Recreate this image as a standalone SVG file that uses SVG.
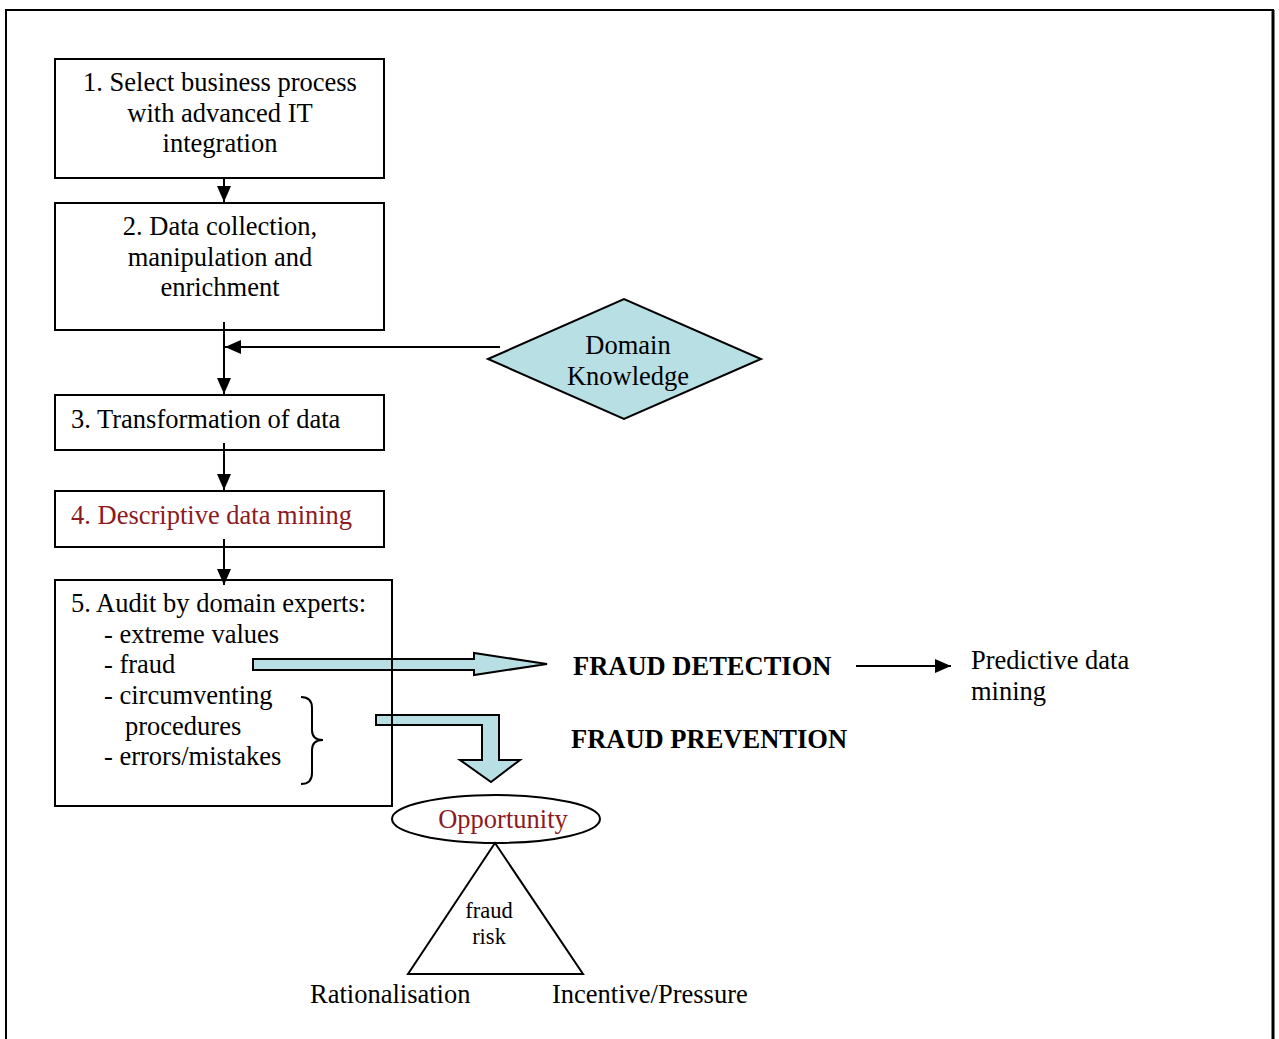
<svg xmlns="http://www.w3.org/2000/svg" width="1279" height="1039" viewBox="0 0 1279 1039">
<style>
text{font-family:"Liberation Serif","Times New Roman",serif;font-size:26.5px;fill:#000}
.c{text-anchor:middle}
.red{fill:#8b1a22}
.b{font-weight:bold}
.box{fill:#fff;stroke:#000;stroke-width:2}
.ln{stroke:#000;stroke-width:2;fill:none}
.blue{fill:#b8dfe3;stroke:#000;stroke-width:2}
.sm{font-size:22.5px}
</style>
<defs>
<marker id="ahw" markerWidth="16" markerHeight="14" refX="16" refY="7" orient="auto" markerUnits="userSpaceOnUse" viewBox="0 0 16 14">
<path d="M0,0 L16,7 L0,14 z" fill="#000"/>
</marker>
</defs>
<rect width="1279" height="1039" fill="#fff"/>
<path d="M6,1039 V10 H1273 V1039" fill="none" stroke="#000" stroke-width="2"/>
<line x1="1273" y1="10" x2="1273" y2="1039" stroke="#000" stroke-width="3"/>

<g id="n1"><rect class="box" x="55" y="59" width="329" height="119"/>
<text class="c" x="220" y="91">1. Select business process</text>
<text class="c" x="220" y="122">with advanced IT</text>
<text class="c" x="220" y="152">integration</text></g>

<g id="n2"><rect class="box" x="55" y="203" width="329" height="127"/>
<text class="c" x="220" y="235">2. Data collection,</text>
<text class="c" x="220" y="266">manipulation and</text>
<text class="c" x="220" y="296">enrichment</text></g>

<g id="n3"><rect class="box" x="55" y="395" width="329" height="55"/>
<text x="71" y="428">3. Transformation of data</text></g>

<g id="n4"><rect class="box" x="55" y="491" width="329" height="56"/>
<text class="red" x="71" y="524">4. Descriptive data mining</text></g>

<g id="n5"><rect class="box" x="55" y="580" width="337" height="226"/>
<text x="71" y="612">5. Audit by domain experts:</text>
<text x="104" y="643">- extreme values</text>
<text x="104" y="673">- fraud</text>
<text x="104" y="704">- circumventing</text>
<text x="125" y="735">procedures</text>
<text x="104" y="765">- errors/mistakes</text>
<path class="ln" d="M301,697 Q312,697 312,708 V730 Q312,740 323,740 Q312,740 312,750 V773 Q312,784 301,784" stroke-width="1.5"/></g>

<g id="domain"><polygon class="blue" points="488,359 624,299 761,359 624,419"/>
<text class="c" x="628" y="354">Domain</text>
<text class="c" x="628" y="385">Knowledge</text></g>

<g id="connectors">
<line class="ln" x1="224" y1="178" x2="224" y2="202" marker-end="url(#ahw)"/>
<line class="ln" x1="224" y1="322" x2="224" y2="394" marker-end="url(#ahw)"/>
<line class="ln" x1="500" y1="347" x2="225" y2="347" marker-end="url(#ahw)"/>
<line class="ln" x1="224" y1="443" x2="224" y2="490" marker-end="url(#ahw)"/>
<line class="ln" x1="224" y1="539" x2="224" y2="585" marker-end="url(#ahw)"/>
<path class="blue" d="M253,659 H474 V653 L547,664 L474,675 V670 H253 Z"/>
<path class="blue" d="M376,715 H499 V760 H520 L491,782 L460,760 H482 V725 H376 Z"/>
<line x1="392" y1="580" x2="392" y2="806" stroke="#000" stroke-width="2"/>
<line class="ln" x1="856" y1="666" x2="951" y2="666" marker-end="url(#ahw)"/>
</g>

<g id="detect"><text class="b" x="573" y="675">FRAUD DETECTION</text></g>
<g id="predict"><text x="971" y="669">Predictive data</text>
<text x="971" y="700">mining</text></g>
<g id="prevent"><text class="b" x="571" y="748">FRAUD PREVENTION</text></g>

<g id="opportunity"><ellipse cx="496" cy="819" rx="104" ry="24" fill="#fff" stroke="#000" stroke-width="2"/>
<text class="c red" x="503" y="828">Opportunity</text></g>

<g id="triangle"><polygon points="495,843 408,974 583,974" fill="#fff" stroke="#000" stroke-width="2"/>
<text class="c sm" x="489" y="918">fraud</text>
<text class="c sm" x="489" y="944">risk</text></g>

<g id="rat"><text x="310" y="1003">Rationalisation</text></g>
<g id="inc"><text x="552" y="1003">Incentive/Pressure</text></g>
</svg>
